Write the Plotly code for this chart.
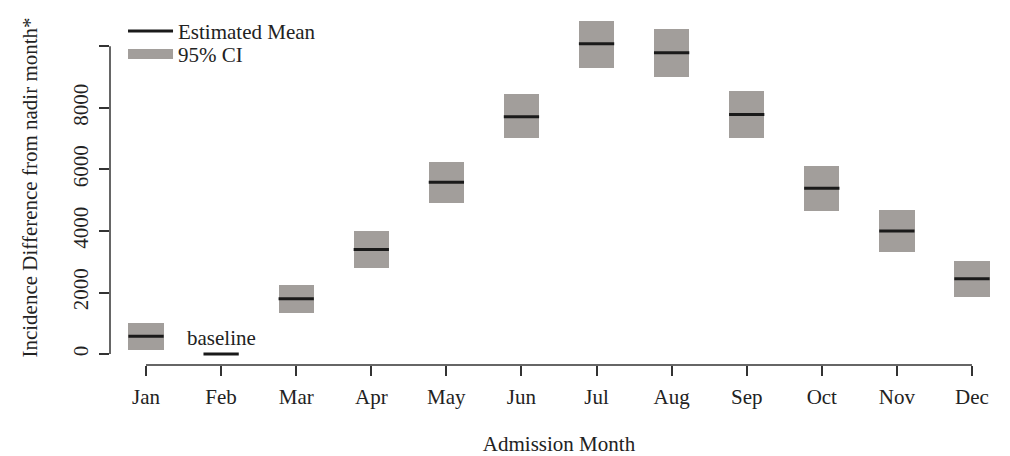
import plotly.graph_objects as go

months = ["Jan", "Feb", "Mar", "Apr", "May", "Jun", "Jul", "Aug", "Sep", "Oct", "Nov", "Dec"]
mean_vals = [580, 0, 1800, 3400, 5580, 7710, 10080, 9790, 7780, 5385, 3995, 2445]
ci_low = [130, 0, 1350, 2810, 4910, 7030, 9300, 9010, 7020, 4650, 3320, 1840]
ci_high = [1000, 0, 2240, 3995, 6245, 8450, 10820, 10560, 8535, 6095, 4675, 3035]
y_ticks = [0, 2000, 4000, 6000, 8000, 10000]
y_tick_text = ["0", "2000", "4000", "6000", "8000", ""]

FONT = "Liberation Serif"
FS = 21
GREY = "#a29e9b"
BLACK = "#1a1a1a"
AXIS = "#333333"
HALF = 0.235

pos = list(range(1, len(months) + 1))

fig = go.Figure()

# CI boxes
fig.add_trace(go.Bar(
    x=pos,
    y=[h - l for h, l in zip(ci_high, ci_low)],
    base=ci_low,
    width=2 * HALF,
    marker=dict(color=GREY, line=dict(width=0)),
    showlegend=False,
    hoverinfo="skip",
))

# mean segments
xs, ys = [], []
for p, m in zip(pos, mean_vals):
    xs += [p - HALF, p + HALF, None]
    ys += [m, m, None]
fig.add_trace(go.Scatter(
    x=xs, y=ys, mode="lines",
    line=dict(color=BLACK, width=3),
    name="Estimated Mean",
    legend="legend",
))

# legend-only entry for CI
fig.add_trace(go.Scatter(
    x=[None], y=[None], mode="lines",
    line=dict(color=GREY, width=12),
    name="95% CI",
    legend="legend2",
))

fig.update_layout(
    width=1010, height=456,
    margin=dict(l=110, r=2, t=10, b=89),
    paper_bgcolor="white", plot_bgcolor="white",
    font=dict(family=FONT, size=FS, color="#222222"),
    bargap=0,
    legend=dict(x=0.0145, y=0.94, xanchor="left", yanchor="middle", itemwidth=45,
                bgcolor="rgba(0,0,0,0)", font=dict(size=21)),
    legend2=dict(x=0.0145, y=0.875, xanchor="left", yanchor="middle", itemwidth=45,
                 bgcolor="rgba(0,0,0,0)", font=dict(size=21)),
    xaxis=dict(
        range=[0.52, 12.48],
        tickvals=pos, ticktext=months,
        ticks="outside", ticklen=10, tickwidth=1.5, tickcolor=AXIS,
        showline=False, showgrid=False, zeroline=False,
        title=dict(text="Admission Month", font=dict(size=FS), standoff=30),
        tickfont=dict(size=FS), ticklabelstandoff=3,
    ),
    yaxis=dict(
        range=[-355, 11176],
        tickvals=y_ticks, ticktext=y_tick_text,
        tickangle=-90,
        ticks="outside", ticklen=10, tickwidth=1.5, tickcolor=AXIS,
        showline=False, showgrid=False, zeroline=False,
        title=dict(text="Incidence Difference from nadir month*", font=dict(size=FS), standoff=25),
        tickfont=dict(size=FS), ticklabelstandoff=3,
    ),
    shapes=[
        dict(type="line", xref="x", yref="paper", x0=pos[0], x1=pos[-1], y0=0, y1=0,
             line=dict(color=AXIS, width=1.5)),
        dict(type="line", xref="paper", yref="y", x0=0, x1=0, y0=y_ticks[0], y1=y_ticks[-1],
             line=dict(color=AXIS, width=1.5)),
    ],
    annotations=[
        dict(x=pos[1], y=mean_vals[1], xref="x", yref="y", text="baseline",
             showarrow=False, yanchor="bottom", yshift=2, font=dict(size=FS)),
    ],
)

fig.write_html("out.html", config={"displayModeBar": False},
               post_script="document.body.style.margin='0';document.body.style.overflow='hidden';")
